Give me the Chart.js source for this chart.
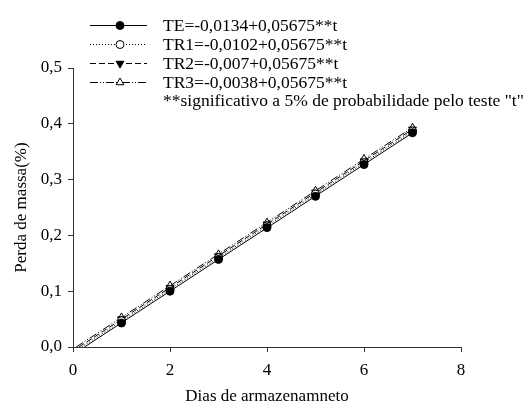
<!DOCTYPE html>
<html>
<head>
<meta charset="utf-8">
<script src="https://cdn.jsdelivr.net/npm/chart.js@4/dist/chart.umd.min.js"></script>
<style>
  html, body { margin: 0; padding: 0; background: #fff; }
  #wrap { width: 531px; height: 408px; }
</style>
</head>
<body>
<div id="wrap"><canvas id="c" width="531" height="408"></canvas></div>
<script>
// Storage days with measured points
const days = [1, 2, 3, 4, 5, 6, 7];

// Mass loss (%) measured for each treatment
const lossTE  = [0.043, 0.100, 0.157, 0.214, 0.270, 0.327, 0.384];
const lossTR1 = [0.047, 0.103, 0.160, 0.217, 0.274, 0.330, 0.387];
const lossTR2 = [0.050, 0.106, 0.163, 0.220, 0.277, 0.333, 0.390];
const lossTR3 = [0.053, 0.110, 0.166, 0.223, 0.280, 0.337, 0.393];

// Fitted regression lines: intercepts and common slope
const seriesNames = ['TE', 'TR1', 'TR2', 'TR3'];
const intercepts = [-0.0134, -0.0102, -0.007, -0.0038];
const slope = 0.05675;
const legendTexts = [
  'TE=-0,0134+0,05675**t',
  'TR1=-0,0102+0,05675**t',
  'TR2=-0,007+0,05675**t',
  'TR3=-0,0038+0,05675**t'
];
const noteText = '**significativo a 5% de probabilidade pelo teste "t"';

const xTicks = [0, 2, 4, 6, 8];
const yTicks = [0, 0.1, 0.2, 0.3, 0.4, 0.5];

const FONT = '"Liberation Serif", "Times New Roman", serif';
const INK = '#000';
const AXIS = '#333';

const styles = [
  { dash: [],                 pointStyle: 'circle',   rotation: 0,   fill: INK,    radius: 4 },
  { dash: [1, 2],             pointStyle: 'circle',   rotation: 0,   fill: '#fff', radius: 4 },
  { dash: [6, 3],             pointStyle: 'triangle', rotation: 180, fill: INK,    radius: 4.5 },
  { dash: [8, 2, 1, 2, 1, 2], pointStyle: 'triangle', rotation: 0,   fill: '#fff', radius: 4.5 }
];

const measured = [lossTE, lossTR1, lossTR2, lossTR3];
const datasets = [];

seriesNames.forEach((name, i) => {
  const st = styles[i];
  const b = intercepts[i];
  const tStart = -b / slope;
  const tEnd = days[days.length - 1];
  datasets.push({
    label: name + ' ajuste',
    data: [{ x: tStart, y: 0 }, { x: tEnd, y: b + slope * tEnd }],
    borderColor: INK,
    borderWidth: 1,
    borderDash: st.dash,
    pointRadius: 0,
    showLine: true,
    fill: false
  });
  datasets.push({
    label: name,
    data: days.map((d, k) => ({ x: d, y: measured[i][k] })),
    showLine: false,
    pointStyle: st.pointStyle,
    rotation: st.rotation,
    pointRadius: st.radius,
    pointBorderWidth: 1,
    pointBorderColor: INK,
    pointBackgroundColor: st.fill
  });
});

// Legend block with line sample, marker and equation text
const legendPlugin = {
  id: 'equationLegend',
  afterDraw(chart) {
    const ctx = chart.ctx;
    const rows = [25, 44, 63, 82];
    const x0 = 90, x1 = 147, xm = 120, xt = 163;
    ctx.save();
    ctx.font = '17.5px ' + FONT;
    ctx.textBaseline = 'middle';
    ctx.fillStyle = INK;
    rows.forEach((y, i) => {
      const st = styles[i];
      ctx.save();
      ctx.strokeStyle = INK;
      ctx.lineWidth = 1;
      ctx.setLineDash(st.dash);
      ctx.beginPath();
      ctx.moveTo(x0, y + 0.5);
      ctx.lineTo(x1, y + 0.5);
      ctx.stroke();
      ctx.restore();
      ctx.save();
      ctx.fillStyle = st.fill;
      ctx.strokeStyle = INK;
      ctx.lineWidth = 1;
      Chart.helpers.drawPoint(ctx, {
        pointStyle: st.pointStyle, radius: st.radius, rotation: st.rotation, borderWidth: 1
      }, xm, y + 0.5);
      ctx.restore();
      ctx.fillText(legendTexts[i], xt, y + 1);
    });
    ctx.fillText(noteText, xt, 101);
    ctx.restore();
  }
};

new Chart(document.getElementById('c'), {
  type: 'scatter',
  data: { datasets },
  options: {
    responsive: false,
    animation: false,
    layout: { padding: { top: 68, right: 70, left: 0, bottom: 0 } },
    plugins: {
      legend: { display: false },
      tooltip: { enabled: false }
    },
    scales: {
      x: {
        type: 'linear',
        min: 0, max: 8,
        afterBuildTicks(s) { s.ticks = xTicks.map(v => ({ value: v })); },
        afterFit(s) { s.height = 61; },
        grid: { drawOnChartArea: false, drawTicks: true, tickLength: 5, color: AXIS, tickWidth: 1 },
        border: { display: true, color: AXIS, width: 1 },
        ticks: { color: INK, font: { family: FONT, size: 17 }, padding: 8, maxRotation: 0 },
        title: { display: true, text: 'Dias de armazenamneto', color: INK, font: { family: FONT, size: 17 }, padding: { top: 4, bottom: 1 } }
      },
      y: {
        type: 'linear',
        min: 0, max: 0.5,
        afterBuildTicks(s) { s.ticks = yTicks.map(v => ({ value: v })); },
        afterFit(s) { s.width = 73; },
        grid: { drawOnChartArea: false, drawTicks: true, tickLength: 5, color: AXIS, tickWidth: 1 },
        border: { display: true, color: AXIS, width: 1 },
        ticks: {
          color: INK, font: { family: FONT, size: 17 }, padding: 6,
          callback: v => v.toFixed(1).replace('.', ',')
        },
        title: { display: true, text: 'Perda de massa(%)', color: INK, font: { family: FONT, size: 17 }, padding: { top: 11, bottom: 0 } }
      }
    }
  },
  plugins: [legendPlugin]
});
</script>
</body>
</html>
